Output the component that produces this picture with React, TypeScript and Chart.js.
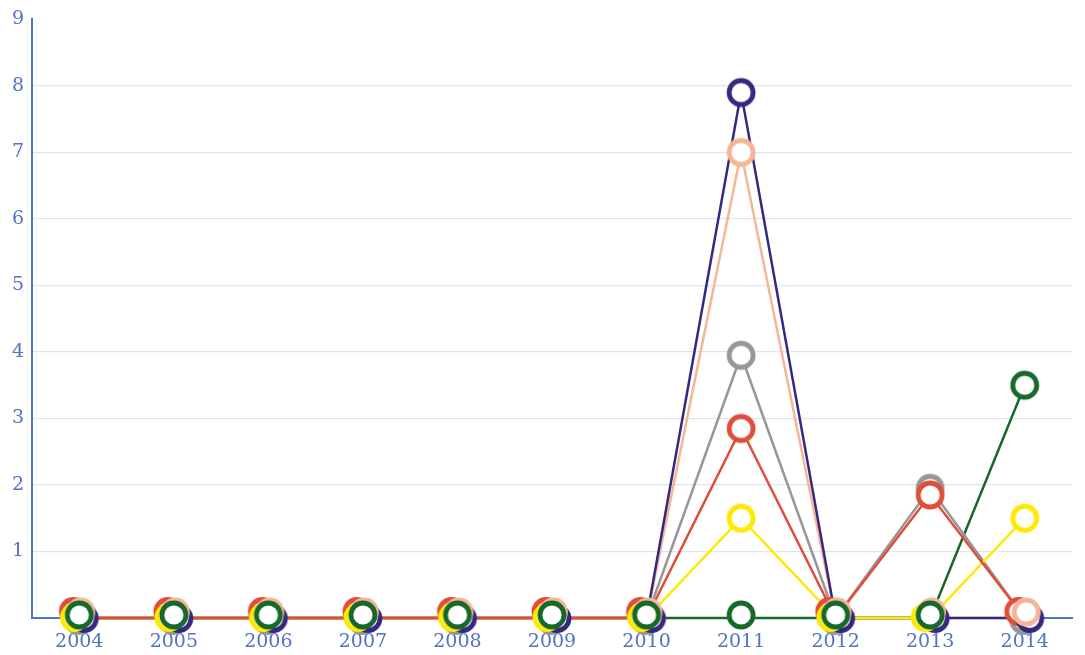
import React, { useEffect, useRef } from "react";
import { Chart, registerables } from "chart.js";

Chart.register(...registerables);

const years = ["2004", "2005", "2006", "2007", "2008", "2009", "2010", "2011", "2012", "2013", "2014"];
const purpleValues = [0, 0, 0, 0, 0, 0, 0, 7.9, 0, 0, 0];
const peachValues = [0, 0, 0, 0, 0, 0, 0, 7.0, 0, 0, 0];
const grayValues = [0, 0, 0, 0, 0, 0, 0, 3.95, 0, 1.95, 0];
const redValues = [0, 0, 0, 0, 0, 0, 0, 2.85, 0, 1.85, 0];
const yellowValues = [0, 0, 0, 0, 0, 0, 0, 1.5, 0, 0, 1.5];
const greenValues = [0, 0, 0, 0, 0, 0, 0, 0, 0, 0, 3.5];
const yTickValues = [1, 2, 3, 4, 5, 6, 7, 8, 9];

const TEXT = "#5173c2";
const AXIS = "#4f73c6";
const GRID = "#dfe5f0";
const FONT = "'DejaVu Serif', serif";

type Series = {
  label: string;
  data: number[];
  color: string;
  lineOrder: number;
  pointOrder: number;
  dx: number;
  dy: number;
};

const series: Series[] = [
  { label: "A", data: purpleValues, color: "#35297f", lineOrder: 12, pointOrder: 3, dx: 5, dy: 0.5 },
  { label: "B", data: peachValues, color: "#f7b597", lineOrder: 13, pointOrder: 1, dx: 1.5, dy: -6 },
  { label: "C", data: grayValues, color: "#979797", lineOrder: 14, pointOrder: 5, dx: -1, dy: 2.5 },
  { label: "D", data: redValues, color: "#df4e38", lineOrder: 10, pointOrder: 4, dx: -6, dy: -6.5 },
  { label: "E", data: yellowValues, color: "#ffe900", lineOrder: 11, pointOrder: 2, dx: -5, dy: -0.5 },
  { label: "F", data: greenValues, color: "#17692a", lineOrder: 15, pointOrder: 0, dx: 0, dy: -3 },
];

function makeRing(color: string, dx: number, dy: number): HTMLCanvasElement {
  const c = document.createElement("canvas");
  c.width = 48;
  c.height = 48;
  const g = c.getContext("2d")!;
  g.beginPath();
  g.arc(24 + dx, 24 + dy, 12, 0, Math.PI * 2);
  g.fillStyle = "#ffffff";
  g.fill();
  g.lineWidth = 4.8;
  g.strokeStyle = color;
  g.stroke();
  return c;
}

export default function App() {
  const ref = useRef<HTMLCanvasElement | null>(null);

  useEffect(() => {
    if (!ref.current) return;
    const lineSets = series.map((s) => ({
      label: s.label + " line",
      data: s.data,
      borderColor: s.color,
      backgroundColor: s.color,
      borderWidth: 2.5,
      pointRadius: 0,
      tension: 0,
      fill: false,
      order: s.lineOrder,
      clip: false as any,
    }));
    const pointSets = series.map((s) => {
      const centered = makeRing(s.color, 0, 0);
      const shifted = makeRing(s.color, s.dx, s.dy);
      return {
        label: s.label,
        data: s.data,
        showLine: false,
        borderColor: s.color,
        backgroundColor: "#ffffff",
        pointRadius: 12,
        pointStyle: (ctx: any) => (ctx.raw === 0 ? shifted : centered),
        order: s.pointOrder,
        clip: false as any,
      };
    });

    const chart = new Chart(ref.current, {
      type: "line",
      data: { labels: years, datasets: [...lineSets, ...pointSets] as any },
      options: {
        animation: false,
        responsive: true,
        maintainAspectRatio: false,
        events: [],
        layout: { padding: { top: 14, right: 10, left: 0, bottom: 0 } },
        plugins: { legend: { display: false }, tooltip: { enabled: false } },
        scales: {
          x: {
            offset: true,
            grid: { display: false, drawTicks: false },
            border: { display: true, color: AXIS, width: 2 },
            ticks: { color: TEXT, font: { family: FONT, size: 19 }, padding: 13, maxRotation: 0, autoSkip: false },
            afterFit: (scale: any) => {
              scale.height = 37;
            },
          },
          y: {
            min: 0,
            max: 9,
            afterBuildTicks: (scale: any) => {
              scale.ticks = [0, ...yTickValues].map((v) => ({ value: v }));
            },
            grid: {
              drawTicks: false,
              lineWidth: 1.2,
              color: (ctx: any) => (ctx.tick && (ctx.tick.value === 0 || ctx.tick.value === 9) ? "rgba(0,0,0,0)" : GRID),
            },
            border: { display: true, color: AXIS, width: 2 },
            ticks: {
              color: TEXT,
              font: { family: FONT, size: 19 },
              padding: 8,
              callback: (v: any) => (v === 0 ? "" : String(v)),
            },
            afterFit: (scale: any) => {
              scale.width = 32;
            },
          },
        },
      },
    });
    return () => chart.destroy();
  }, []);

  return (
    <div style={{ position: "absolute", left: 0, top: 0, width: 1085, height: 655, background: "#ffffff" }}>
      <canvas ref={ref} />
    </div>
  );
}
